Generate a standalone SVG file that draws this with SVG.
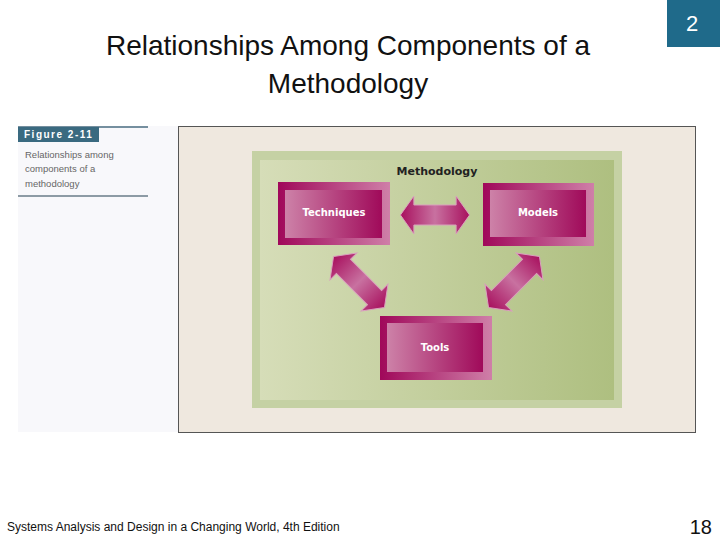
<svg xmlns="http://www.w3.org/2000/svg" width="720" height="540" viewBox="0 0 720 540">
<defs>
<linearGradient id="bg" x1="0" x2="1"><stop offset="0" stop-color="#d6ddb8"/><stop offset="1" stop-color="#aebf80"/></linearGradient>
<linearGradient id="outer" x1="0" x2="1"><stop offset="0" stop-color="#a0085a"/><stop offset="1" stop-color="#cf7fa8"/></linearGradient>
<linearGradient id="inner" x1="0" x2="1"><stop offset="0" stop-color="#cd82a8"/><stop offset="1" stop-color="#a00a5a"/></linearGradient>
<linearGradient id="arr" x1="0" x2="1"><stop offset="0" stop-color="#a8105e"/><stop offset="0.5" stop-color="#c871a0"/><stop offset="1" stop-color="#a8105e"/></linearGradient>
<polygon id="dbl" points="-36,0 -22,-19 -22,-10 22,-10 22,-19 36,0 22,19 22,10 -22,10 -22,19" fill="url(#arr)" stroke="#d9a0bd" stroke-width="1"/>
</defs>
<style>
.t{font-family:"Liberation Sans",Arial,sans-serif}
.lbl{font-family:"DejaVu Sans",sans-serif;font-size:10px;font-weight:bold;fill:#fff;text-anchor:middle}
</style>
<rect width="720" height="540" fill="#fff"/>
<text class="t" x="348" y="55" font-size="28" text-anchor="middle" fill="#111">Relationships Among Components of a</text>
<text class="t" x="348" y="93" font-size="28" text-anchor="middle" fill="#111">Methodology</text>
<rect x="667" y="0" width="53" height="47" fill="#1f6a8a"/>
<text class="t" x="692" y="31" font-size="22" text-anchor="middle" fill="#fff">2</text>
<rect x="18" y="126" width="160" height="306" fill="#f8f8fb"/>
<line x1="18" y1="127" x2="148" y2="127" stroke="#4a6c80" stroke-width="1.5"/>
<rect x="18" y="127" width="81" height="15" fill="#3a6a80"/>
<text class="t" x="24" y="138" font-size="10" font-weight="bold" fill="#fff" letter-spacing="1.5">Figure 2-11</text>
<text class="t" font-size="9.5" fill="#666"><tspan x="25" y="158">Relationships among</tspan><tspan x="25" y="172">components of a</tspan><tspan x="25" y="187">methodology</tspan></text>
<line x1="18" y1="196" x2="148" y2="196" stroke="#6a7d88" stroke-width="1.5"/>
<rect x="178.5" y="126.5" width="517" height="306" fill="#efe8df" stroke="#555" stroke-width="1"/>
<rect x="252" y="151" width="370" height="257" fill="#c5d1a4"/>
<rect x="260" y="160" width="354" height="240" fill="url(#bg)"/>
<text x="437" y="175" font-family="DejaVu Sans,sans-serif" font-size="11" font-weight="bold" fill="#222" text-anchor="middle">Methodology</text>
<g id="techniques"><rect x="278" y="182" width="112" height="63" fill="url(#outer)"/><rect x="285" y="190" width="97" height="48" fill="url(#inner)"/><text class="lbl" x="334" y="216">Techniques</text></g>
<g id="models"><rect x="483" y="183" width="111" height="63" fill="url(#outer)"/><rect x="490" y="190" width="96" height="47" fill="url(#inner)"/><text class="lbl" x="538" y="216">Models</text></g>
<g id="tools"><rect x="380" y="316" width="112" height="64" fill="url(#outer)"/><rect x="387" y="323" width="96" height="49" fill="url(#inner)"/><text class="lbl" x="435" y="351">Tools</text></g>
<g id="connectors">
<use href="#dbl" transform="translate(435,215) scale(0.96,1)"/>
<use href="#dbl" transform="translate(359,282) rotate(45)"/>
<use href="#dbl" transform="translate(514,282) rotate(-45)"/>
</g>
<text class="t" x="7" y="531" font-size="12" fill="#111">Systems Analysis and Design in a Changing World, 4th Edition</text>
<text class="t" x="712" y="534" font-size="20" text-anchor="end" fill="#111">18</text>
</svg>
